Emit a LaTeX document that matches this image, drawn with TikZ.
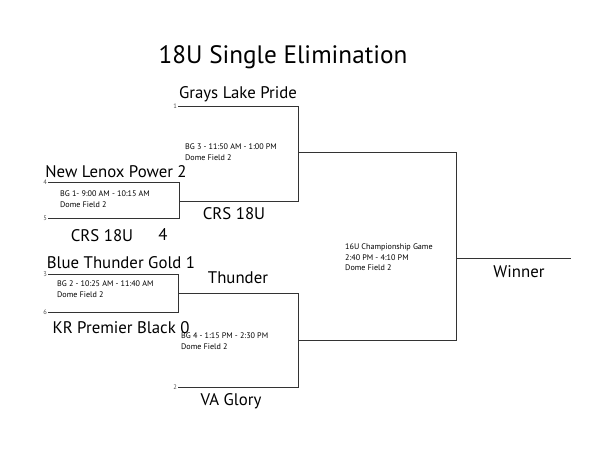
\documentclass[tikz,border=0pt]{standalone}
\usepackage{fontspec}
\setmainfont{PT Sans}
\usetikzlibrary{positioning}

\begin{document}
\begin{tikzpicture}[x=1pt, y=-1pt,
    team/.style={font=\fontsize{16.8}{17}\selectfont, anchor=base, inner sep=0pt},
    info/.style={font=\fontsize{8.1}{10.2}\selectfont, align=left, anchor=north west, inner sep=0pt},
    seed/.style={font=\fontsize{6.5}{7}\selectfont, text=black!70, anchor=east, inner sep=1pt},
    line/.style={draw=black!80, line width=0.9pt}
]
    \useasboundingbox[fill=white] (0,0) rectangle (597,459);

    % Title
    \node[font=\fontsize{25.2}{26}\selectfont, anchor=base, inner sep=0pt] (title) at (283,63) {18U Single Elimination};

    % Bracket corners
    \coordinate (s1) at (178,106);
    \coordinate (s4) at (48,182);
    \coordinate (s5) at (48,218);
    \coordinate (s3) at (48,274);
    \coordinate (s6) at (48,312);
    \coordinate (s2) at (178,387);
    \coordinate (g1) at (179,201);
    \coordinate (g1b) at (179,218);
    \coordinate (g2) at (178,293);
    \coordinate (g2b) at (178,312);
    \coordinate (g3) at (298,152);
    \coordinate (g3b) at (298,201);
    \coordinate (g4) at (298,340);
    \coordinate (g4b) at (298,387);
    \coordinate (fin) at (456,258);
    \coordinate (finb) at (456,340);
    \coordinate (win) at (571,258);

    % Bracket lines
    \draw[line] (s4) -| (g1b) -- (s5);
    \draw[line] (s3) -| (g2b) -- (s6);
    \draw[line] (s1) -| (g3b) -- (g1);
    \draw[line] (g2) -| (g4b) -- (s2);
    \draw[line] (g3) -| (finb) -- (g4);
    \draw[line] (fin) -- (win);

    % Seeds
    \node[seed] (n1) at (s1) {1};
    \node[seed] (n4) at (s4) {4};
    \node[seed] (n5) at (s5) {5};
    \node[seed] (n3) at (s3) {3};
    \node[seed] (n6) at (s6) {6};
    \node[seed] (n2) at (s2) {2};

    % Teams
    \node[team] (grays) at (238,98) {Grays Lake Pride};
    \node[team] (lenox) at (116,177) {New Lenox Power 2};
    \node[team] (crs) at (102,241) {CRS 18U};
    \node[team] (crsscore) at (163,240) {4};
    \node[team] (crswin) at (234,219) {CRS 18U};
    \node[team] (blue) at (121,268) {Blue Thunder Gold 1};
    \node[team] (kr) at (121,333) {KR Premier Black 0};
    \node[team] (thunder) at (238,283) {Thunder};
    \node[team] (glory) at (231,405) {VA Glory};
    \node[team] (winner) at (519,277) {Winner};

    % Game info
    \node[info] (bg1) at (60,191) {BG 1- 9:00 AM - 10:15 AM\\Dome Field 2};
    \node[info] (bg2) at (57,281) {BG 2 - 10:25 AM - 11:40 AM\\Dome Field 2};
    \node[info] (bg3) at (185,144) {BG 3 - 11:50 AM - 1:00 PM\\Dome Field 2};
    \node[info] (bg4) at (181,333) {BG 4 - 1:15 PM - 2:30 PM\\Dome Field 2};
    \node[info] (champ) at (345,244) {16U Championship Game\\2:40 PM - 4:10 PM\\Dome Field 2};
\end{tikzpicture}
\end{document}
